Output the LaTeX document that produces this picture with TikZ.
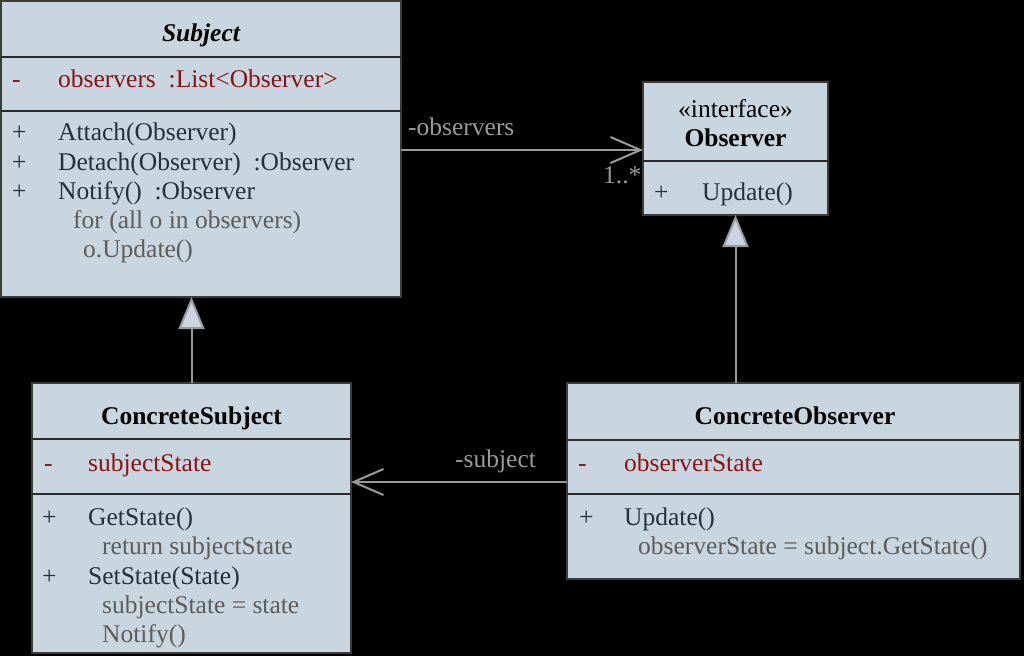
\documentclass[tikz,border=0pt]{standalone}
\usepackage{fontspec}
\setmainfont{Liberation Serif}
\usetikzlibrary{arrows.meta}
\definecolor{boxfill}{HTML}{C9D6E0}
\definecolor{boxline}{HTML}{3C3C3C}
\definecolor{methtext}{HTML}{24303E}
\definecolor{bodytext}{HTML}{5C5C5C}
\definecolor{attrtext}{HTML}{8A1212}
\definecolor{linkgray}{HTML}{9A9A9A}
\tikzset{
  cls/.style={draw=boxline, line width=2pt, fill=boxfill, inner sep=0pt, outer sep=0pt, anchor=north west},
  divider/.style={draw=boxline!70!black, line width=2pt},
  txt/.style={anchor=base west, inner sep=0pt, font=\fontsize{25.5}{30}\selectfont, text=methtext},
  body/.style={txt, text=bodytext},
  attr/.style={txt, text=attrtext},
  title/.style={anchor=base, inner sep=0pt, font=\fontsize{25.5}{30}\selectfont\bfseries, text=black},
  lbl/.style={anchor=base west, inner sep=0pt, font=\fontsize{25.5}{30}\selectfont, text=linkgray},
  assoc/.style={draw=linkgray, line width=2pt, -{Straight Barb[length=30pt,width=26pt,line width=2pt]}},
  gen/.style={draw=linkgray, line width=2pt, -{Triangle[open,length=32pt,width=26pt,line width=2pt,fill=boxfill]}}
}
\begin{document}
\begin{tikzpicture}[x=1pt,y=-1pt]
\useasboundingbox[fill=black] (0,0) rectangle (1024,656);

% Subject
\node[cls, minimum width=400pt, minimum height=296pt] (subject) at (1,1) {};
\draw[divider] (subject.west |- 0,57) -- (subject.east |- 0,57);
\draw[divider] (subject.west |- 0,111) -- (subject.east |- 0,111);
\node[title, font=\fontsize{25.5}{30}\selectfont\bfseries\itshape] (subjt) at (201,41) {Subject};
\node[attr] (s1m) at (12,87) {-};
\node[attr] (s1) at (58,87) {observers \ :List<Observer>};
\node[txt] (s2m) at (12,140) {+};
\node[txt] (s2) at (58,140) {Attach(Observer)};
\node[txt] (s3m) at (12,170) {+};
\node[txt] (s3) at (58,170) {Detach(Observer) \ :Observer};
\node[txt] (s4m) at (12,199) {+};
\node[txt] (s4) at (58,199) {Notify() \ :Observer};
\node[body] (s5) at (73,228) {for (all o in observers)};
\node[body] (s6) at (83,257) {o.Update()};

% Observer
\node[cls, minimum width=185pt, minimum height=133pt] (observer) at (643,82) {};
\draw[divider] (observer.west |- 0,161) -- (observer.east |- 0,161);
\node[anchor=base, inner sep=0pt, font=\fontsize{25.5}{30}\selectfont, text=black] (o1) at (735.5,117) {«interface»};
\node[title] (o2) at (735.5,146) {Observer};
\node[txt] (o3m) at (654,200) {+};
\node[txt] (o3) at (702,200) {Update()};

% ConcreteSubject
\node[cls, minimum width=319pt, minimum height=270pt] (cs) at (32,383) {};
\draw[divider] (cs.west |- 0,439) -- (cs.east |- 0,439);
\draw[divider] (cs.west |- 0,494) -- (cs.east |- 0,494);
\node[title] (cst) at (191.5,424) {ConcreteSubject};
\node[attr] (c1m) at (44,471) {-};
\node[attr] (c1) at (88,471) {subjectState};
\node[txt] (c2m) at (42,525) {+};
\node[txt] (c2) at (88,525) {GetState()};
\node[body] (c3) at (102,554) {return subjectState};
\node[txt] (c4m) at (42,584) {+};
\node[txt] (c4) at (88,584) {SetState(State)};
\node[body] (c5) at (102,613) {subjectState = state};
\node[body] (c6) at (102,642) {Notify()};

% ConcreteObserver
\node[cls, minimum width=453pt, minimum height=196pt] (co) at (567,383) {};
\draw[divider] (co.west |- 0,440) -- (co.east |- 0,440);
\draw[divider] (co.west |- 0,494) -- (co.east |- 0,494);
\node[title] (cot) at (795,424) {ConcreteObserver};
\node[attr] (d1m) at (578,471) {-};
\node[attr] (d1) at (624,471) {observerState};
\node[txt] (d2m) at (579,525) {+};
\node[txt] (d2) at (624,525) {Update()};
\node[body] (d3) at (638,554) {observerState = subject.GetState()};

% connectors
\coordinate (a1) at (0,150);
\coordinate (a2) at (0,482);
\draw[assoc] (subject.east |- a1) -- (observer.west |- a1);
\draw[assoc] (co.west |- a2) -- (cs.east |- a2);
\draw[gen] (cs.north) -- (cs.north |- subject.south);
\draw[gen] (observer.south |- co.north) -- (observer.south);

\node[lbl] (l1) at (408,135) {-observers};
\node[lbl] (l2) at (603,183) {1..*};
\node[lbl] (l3) at (455,467) {-subject};
\end{tikzpicture}
\end{document}
